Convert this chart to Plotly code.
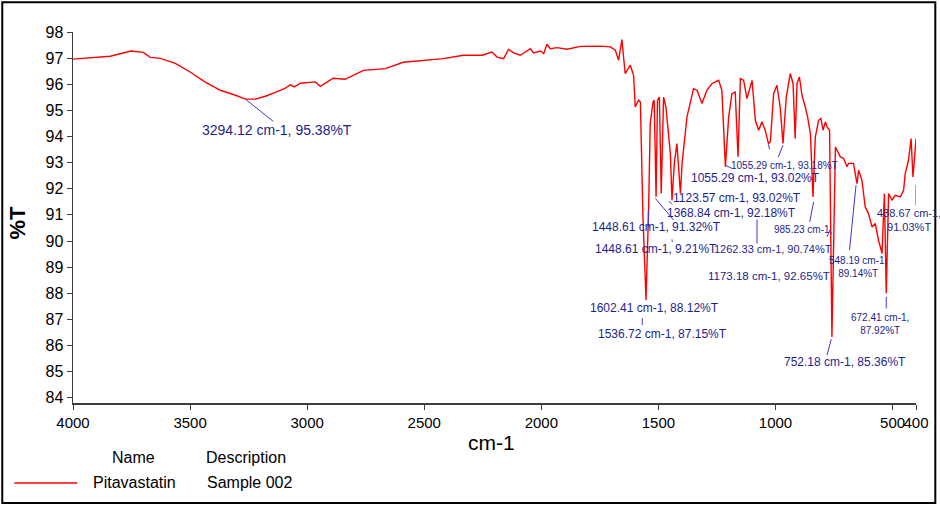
import plotly.graph_objects as go

# ---------------- data ----------------
wavenumber = [
    4000, 3841, 3752, 3700, 3670, 3627, 3563, 3498, 3435, 3371, 3306, 3264, 3221,
    3179, 3136, 3093, 3072, 3055, 3029, 2987, 2965, 2944, 2889, 2838, 2760, 2666,
    2590, 2419, 2333, 2253, 2211, 2189, 2161, 2140, 2118, 2090, 2047, 2033, 2004,
    1990, 1976, 1962, 1933, 1890, 1833, 1748, 1705, 1684, 1670, 1656, 1642, 1620,
    1606, 1599, 1585, 1577, 1566, 1553, 1542, 1535, 1523, 1518, 1510, 1504, 1496,
    1488, 1478, 1468, 1449, 1442, 1432, 1421, 1406, 1399, 1378, 1350, 1335, 1314,
    1293, 1271, 1257, 1243, 1236, 1229, 1214, 1200, 1186, 1172, 1160, 1150, 1136,
    1122, 1100, 1086, 1072, 1058, 1044, 1030, 1022, 1008, 994, 980, 968, 954, 937,
    925, 916, 908, 898, 887, 873, 863, 851, 840, 830, 816, 806, 797, 787, 780, 769,
    759, 744, 730, 723, 709, 695, 688, 667, 652, 645, 631, 617, 603, 588, 574, 560,
    545, 535, 527, 517, 503, 489, 467, 453, 446, 439, 432, 421, 413, 407, 400,
]
transmittance = [
    96.96, 97.07, 97.27, 97.22, 97.03, 96.99, 96.80, 96.46, 96.08, 95.77, 95.58, 95.43, 95.43,
    95.54, 95.69, 95.85, 95.98, 95.90, 96.04, 96.07, 96.09, 95.92, 96.23, 96.19, 96.53, 96.60,
    96.84, 96.98, 97.11, 97.11, 97.23, 97.04, 96.98, 97.33, 97.20, 97.11, 97.36, 97.20, 97.27,
    97.17, 97.53, 97.36, 97.40, 97.34, 97.45, 97.46, 97.43, 97.30, 96.92, 97.71, 96.41, 96.73,
    96.34, 95.13, 95.39, 95.32, 90.92, 87.74, 91.18, 94.50, 95.32, 95.39, 91.69, 95.39, 95.51,
    91.82, 95.51, 95.13, 93.35, 91.56, 92.97, 93.73, 91.82, 92.97, 94.75, 95.83, 95.77, 95.26,
    95.77, 96.03, 96.09, 96.15, 95.96, 95.77, 92.84, 94.75, 95.64, 95.70, 93.22, 96.22, 96.15,
    95.45, 96.15, 94.62, 94.24, 94.56, 94.24, 93.73, 93.79, 95.64, 95.96, 95.13, 93.73, 95.51, 96.41,
    96.03, 93.92, 96.03, 96.28, 95.58, 95.13, 94.75, 94.11, 91.69, 93.98, 94.62, 94.69, 94.24, 94.56, 94.37, 94.24,
    86.33, 93.60, 93.35, 93.22, 93.16, 92.84, 92.97, 92.97, 92.20, 92.71, 92.33, 91.31, 91.05, 90.54, 90.67, 90.03,
    89.52, 91.82, 88.00, 91.82, 91.56, 91.75, 91.69, 91.94, 92.58, 92.84, 93.09, 93.92, 92.45, 93.09, 93.92,
]

x_tick_values = [4000, 3500, 3000, 2500, 2000, 1500, 1000, 500, 400]
x_tick_labels = ["4000", "3500", "3000", "2500", "2000", "1500", "1000", "500", "400"]
y_tick_values = list(range(84, 99))

# peak label texts with their anchor (wavenumber, %T) and font size
label_texts = [
    "3294.12 cm-1, 95.38%T",
    "1055.29 cm-1, 93.18%T",
    "1055.29 cm-1, 93.02%T",
    "1123.57 cm-1, 93.02%T",
    "1368.84 cm-1, 92.18%T",
    "1448.61 cm-1, 91.32%T",
    "1448.61 cm-1, 9.21%T",
    "1262.33 cm-1, 90.74%T",
    "985.23 cm-1,",
    "1173.18 cm-1, 92.65%T",
    "548.19 cm-1,<br>89.14%T",
    "438.67 cm-1,<br>91.03%T",
    "672.41 cm-1,<br>87.92%T",
    "752.18 cm-1, 85.36%T",
    "1602.41 cm-1, 88.12%T",
    "1536.72 cm-1, 87.15%T",
]
label_x = [3128, 960, 1086, 1163, 1188, 1509, 1509, 1010, 881, 1027, 647, 431, 552, 702, 1516, 1484]
label_y = [94.24, 92.90, 92.40, 91.64, 91.06, 90.54, 89.69, 89.69, 90.45, 88.65, 89.02, 90.80, 86.84, 85.38, 87.43, 86.44]
label_size = [14, 10, 12, 12, 12, 12, 12, 11, 10, 11.5, 10, 11, 10, 12, 12, 12]

# leader lines: (x0, y0, x1, y1) in wavenumber / %T
leader_lines = [
    (3264, 95.43, 3145, 94.58),
    (1031, 93.70, 1025, 93.51),
    (968, 93.67, 988, 93.21),
    (1214, 92.90, 1186, 92.78),
    (1455, 91.53, 1442, 91.40),
    (1513, 91.63, 1435, 90.80),
    (1543, 91.18, 1543, 90.52),
    (1442, 90.06, 1441, 89.97),
    (1079, 90.82, 1079, 89.90),
    (837, 91.50, 854, 90.73),
    (780, 90.16, 766, 90.45),
    (656, 92.14, 684, 89.65),
    (400, 92.14, 400, 91.37),
    (527, 87.86, 527, 87.42),
    (762, 86.24, 780, 85.63),
    (1569, 87.05, 1569, 86.78),
]

FONT = "Liberation Sans, Arial, sans-serif"
LABEL_COLOR = "rgb(30,30,140)"
LEADER_COLOR = "rgb(60,60,200)"

fig = go.Figure()
fig.add_trace(go.Scatter(
    x=wavenumber, y=transmittance, mode="lines",
    line=dict(color="rgb(255,0,0)", width=1.4),
    name="Pitavastatin", showlegend=False, hoverinfo="skip",
))

annotations = []
for t, x, y, s in zip(label_texts, label_x, label_y, label_size):
    annotations.append(dict(
        x=x, y=y, xref="x", yref="y", text=t, showarrow=False,
        xanchor="center", yanchor="middle",
        font=dict(family=FONT, size=s, color=LABEL_COLOR),
    ))

shapes = []
for x0, y0, x1, y1 in leader_lines:
    shapes.append(dict(type="line", xref="x", yref="y", x0=x0, y0=y0, x1=x1, y1=y1,
                       line=dict(color=LEADER_COLOR, width=1)))

# axis titles
annotations.append(dict(x=-0.066, y=0.4875, xref="paper", yref="paper", text="<b>%T</b>",
                        showarrow=False, textangle=-90, xanchor="center", yanchor="middle",
                        font=dict(family=FONT, size=22, color="black")))
annotations.append(dict(x=0.497, y=-0.107, xref="paper", yref="paper", text="cm-1",
                        showarrow=False, xanchor="center", yanchor="middle",
                        font=dict(family=FONT, size=21, color="black")))

# legend block
legend_items = [
    ("Name", 0.0716, -0.146),
    ("Description", 0.205, -0.146),
    ("Pitavastatin", 0.0733, -0.2154),
    ("Sample 002", 0.2097, -0.2154),
]
for t, x, y in legend_items:
    annotations.append(dict(x=x, y=y, xref="paper", yref="paper", text=t, showarrow=False,
                            xanchor="center", yanchor="middle",
                            font=dict(family=FONT, size=16, color="black")))
shapes.append(dict(type="line", xref="paper", yref="paper", x0=-0.0696, x1=0.0051,
                   y0=-0.2154, y1=-0.2154, line=dict(color="rgb(255,0,0)", width=1.5)))

# outer frame
shapes.append(dict(type="rect", xref="paper", yref="paper", x0=-0.0839, x1=1.0229,
                   y0=-0.2693, y1=1.080, line=dict(color="black", width=2),
                   fillcolor="rgba(0,0,0,0)"))

fig.update_layout(
    width=940, height=506,
    margin=dict(l=73, r=24, t=32, b=103, autoexpand=False),
    paper_bgcolor="white", plot_bgcolor="white",
    font=dict(family=FONT, color="black"),
    annotations=annotations, shapes=shapes,
    showlegend=False,
)
fig.update_xaxes(
    range=[4000, 400], autorange=False,
    tickvals=x_tick_values, ticktext=x_tick_labels, tickangle=0,
    showline=True, linecolor="rgb(60,60,60)", linewidth=1.5,
    ticks="outside", ticklen=5, tickcolor="rgb(60,60,60)",
    showgrid=False, zeroline=False, automargin=False,
    tickfont=dict(family=FONT, size=15, color="black"),
)
fig.update_yaxes(
    range=[83.8, 98], autorange=False,
    tickvals=y_tick_values,
    showline=True, linecolor="rgb(60,60,60)", linewidth=1.5,
    ticks="outside", ticklen=5, tickcolor="rgb(60,60,60)",
    showgrid=False, zeroline=False, automargin=False,
    tickfont=dict(family=FONT, size=16, color="black"),
)

fig.write_html(
    "out.html",
    config={"responsive": False, "displayModeBar": False, "staticPlot": True},
    post_script="document.body.style.margin='0px'; document.body.style.overflow='hidden';",
)
